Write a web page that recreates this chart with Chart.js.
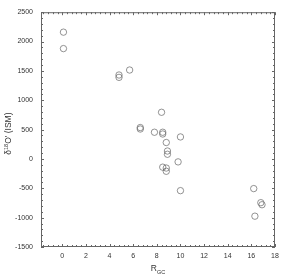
<!DOCTYPE html>
<html>
<head>
<meta charset="utf-8">
<script src="https://cdn.jsdelivr.net/npm/chart.js@4/dist/chart.umd.min.js"></script>
<style>
  html, body { margin: 0; padding: 0; background: #fff; }
  #wrap { width: 288px; height: 279px; }
</style>
</head>
<body>
<div id="wrap"><canvas id="chart" width="288" height="279"></canvas></div>
<script>
// Galactocentric distance (kpc) and oxygen isotope ratio values
const rgc = [0.1, 0.1, 4.8, 4.8, 5.7, 6.6, 6.6, 7.8, 8.4, 8.5, 8.5, 8.8, 8.9, 8.9, 8.5, 8.8, 8.8, 9.8, 10.0, 10.0, 16.2, 16.8, 16.9, 16.3];
const d18o = [2160, 1880, 1430, 1390, 1515, 535, 510, 455, 795, 455, 425, 280, 135, 80, -140, -155, -210, -50, 375, -540, -505, -745, -780, -975];

// Axis ticks
const xTicks = [0, 2, 4, 6, 8, 10, 12, 14, 16, 18];
const yTicks = [-1500, -1000, -500, 0, 500, 1000, 1500, 2000, 2500];

const axisColor = '#666';
const textColor = '#333';
const fontFamily = '"Liberation Sans", Arial, sans-serif';

// Draw the frame, inward minor/major ticks and the two axis titles
const framePlugin = {
  id: 'frame',
  afterDraw(chart) {
    const ctx = chart.ctx;
    const a = chart.chartArea;
    const xs = chart.scales.x;
    const ys = chart.scales.y;
    ctx.save();
    ctx.strokeStyle = axisColor;
    ctx.lineWidth = 1;
    ctx.strokeRect(a.left + 0.5, a.top + 0.5, a.right - a.left - 1, a.bottom - a.top - 1);

    ctx.beginPath();
    // x minor ticks every 0.4
    for (let i = -4; i <= 45; i++) {
      const px = Math.round(xs.getPixelForValue(i * 0.4)) + 0.5;
      const len = (i >= 0 && i % 5 === 0) ? 3 : 2;
      ctx.moveTo(px, a.bottom); ctx.lineTo(px, a.bottom - len);
      ctx.moveTo(px, a.top); ctx.lineTo(px, a.top + len);
    }
    // y minor ticks every 100
    for (let v = -1500; v <= 2500; v += 100) {
      const py = Math.round(ys.getPixelForValue(v)) + 0.5;
      const len = (v % 500 === 0) ? 3 : 2;
      ctx.moveTo(a.left, py); ctx.lineTo(a.left + len, py);
      ctx.moveTo(a.right, py); ctx.lineTo(a.right - len, py);
    }
    ctx.stroke();

    ctx.fillStyle = textColor;
    ctx.textBaseline = 'alphabetic';
    ctx.textAlign = 'left';
    // x title: R with subscript GC
    const cx = (a.left + a.right) / 2;
    ctx.font = '8.5px ' + fontFamily;
    const rW = ctx.measureText('R').width;
    ctx.font = '5.5px ' + fontFamily;
    const gW = ctx.measureText('GC').width;
    const x0 = cx - (rW + gW) / 2;
    ctx.font = '8.5px ' + fontFamily;
    ctx.fillText('R', x0, 271);
    ctx.font = '5.5px ' + fontFamily;
    ctx.fillText('GC', x0 + rW, 273.5);

    // y title: δ18O' (ISM), rotated
    ctx.translate(11, (a.top + a.bottom) / 2 + 4);
    ctx.rotate(-Math.PI / 2);
    const parts = [
      ['δ', '8.5px', 0],
      ['18', '5.5px', -3.5],
      ["O' (ISM)", '8.5px', 0]
    ];
    let total = 0;
    parts.forEach(p => {
      ctx.font = p[1] + ' ' + fontFamily;
      total += ctx.measureText(p[0]).width;
    });
    let tx = -total / 2;
    parts.forEach(p => {
      ctx.font = p[1] + ' ' + fontFamily;
      ctx.fillText(p[0], tx, p[2]);
      tx += ctx.measureText(p[0]).width;
    });
    ctx.restore();
  }
};

const points = rgc.map((r, i) => ({ x: r, y: d18o[i] }));

new Chart(document.getElementById('chart'), {
  type: 'scatter',
  data: {
    datasets: [{
      data: points,
      pointStyle: 'circle',
      pointRadius: 3.2,
      pointHoverRadius: 3.2,
      borderWidth: 0.7,
      borderColor: '#666',
      backgroundColor: 'rgba(0,0,0,0)'
    }]
  },
  options: {
    responsive: false,
    animation: false,
    events: [],
    layout: { padding: { left: 0, right: 13, top: 12, bottom: 0 } },
    plugins: { legend: { display: false }, tooltip: { enabled: false } },
    scales: {
      x: {
        type: 'linear',
        min: -1.8,
        max: 18,
        afterBuildTicks: scale => { scale.ticks = xTicks.map(v => ({ value: v })); },
        afterFit: scale => { scale.height = 32; },
        grid: { display: false, drawTicks: false },
        border: { display: false },
        ticks: {
          padding: 5,
          color: textColor,
          maxRotation: 0,
          callback: v => String(v),
          font: { family: fontFamily, size: 7 }
        }
      },
      y: {
        type: 'linear',
        min: -1500,
        max: 2500,
        afterBuildTicks: scale => { scale.ticks = yTicks.map(v => ({ value: v })); },
        afterFit: scale => { scale.width = 41; },
        grid: { display: false, drawTicks: false },
        border: { display: false },
        ticks: {
          padding: 8,
          color: textColor,
          callback: v => String(v),
          font: { family: fontFamily, size: 7 }
        }
      }
    }
  },
  plugins: [framePlugin]
});
</script>
</body>
</html>
